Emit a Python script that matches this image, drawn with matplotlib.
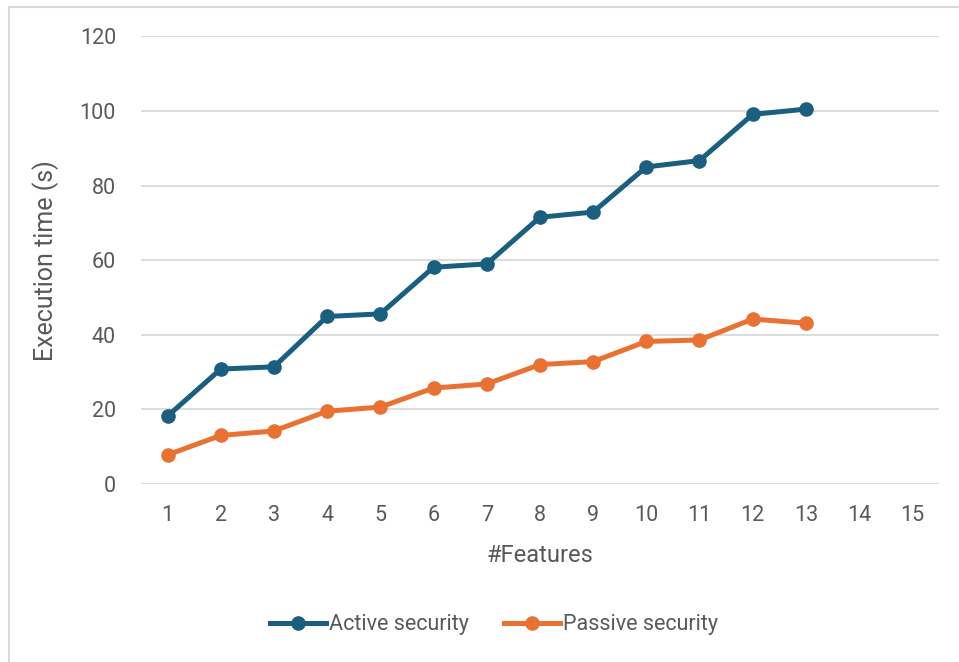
import matplotlib
matplotlib.use("Agg")
import matplotlib.pyplot as plt
from matplotlib.patches import Rectangle

# Data
features = list(range(1, 14))
active_security = [18.2, 30.8, 31.4, 44.9, 45.6, 58.1, 59.0, 71.5, 72.9, 85.0, 86.7, 99.1, 100.5]
passive_security = [7.8, 13.0, 14.2, 19.5, 20.6, 25.7, 26.8, 32.0, 32.8, 38.2, 38.6, 44.2, 43.1]
x_ticks = list(range(1, 16))
y_ticks = [0, 20, 40, 60, 80, 100, 120]

plt.rcParams['font.family'] = ['Roboto', 'DejaVu Sans']
text_color = '#595959'
blue = '#1B5F80'
orange = '#E97132'

fig = plt.figure(figsize=(9.59, 6.62), dpi=100)
ax = fig.add_axes([0.147, 0.269, 0.832, 0.676])

ax.plot(features, active_security, color=blue, lw=3.6, marker='o', ms=9.5,
        label='Active security', solid_joinstyle='round', zorder=3)
ax.plot(features, passive_security, color=orange, lw=3.6, marker='o', ms=9.5,
        label='Passive security', solid_joinstyle='round', zorder=3)

ax.set_xlim(0.5, 15.5)
ax.set_ylim(0, 120)
ax.set_xticks(x_ticks)
ax.set_yticks(y_ticks)
ax.tick_params(axis='both', length=0, labelsize=15.5, colors=text_color)
ax.tick_params(axis='x', pad=15)
ax.tick_params(axis='y', pad=18)
ax.yaxis.grid(True, color='#D9D9D9', lw=1.3, zorder=0)
ax.set_axisbelow(True)
for s in ax.spines.values():
    s.set_visible(False)

ax.set_xlabel('#Features', fontsize=17, color=text_color, labelpad=13)
ax.set_ylabel('Execution time (s)', fontsize=18, color=text_color, labelpad=15)

leg = fig.legend(loc='center', bbox_to_anchor=(0.515, 0.056), ncol=2, frameon=False,
                 fontsize=15.5, handlelength=2.6, handletextpad=0.15, columnspacing=1.6,
                 labelcolor=text_color)

# light outer frame
fig.patches.append(Rectangle((8.5 / 959, -0.01), 1.0, 1.0 - 6.5 / 662 + 0.01,
                             transform=fig.transFigure, fill=False,
                             edgecolor='#D9D9D9', lw=1.5))

fig.savefig('out.png', dpi=100)
